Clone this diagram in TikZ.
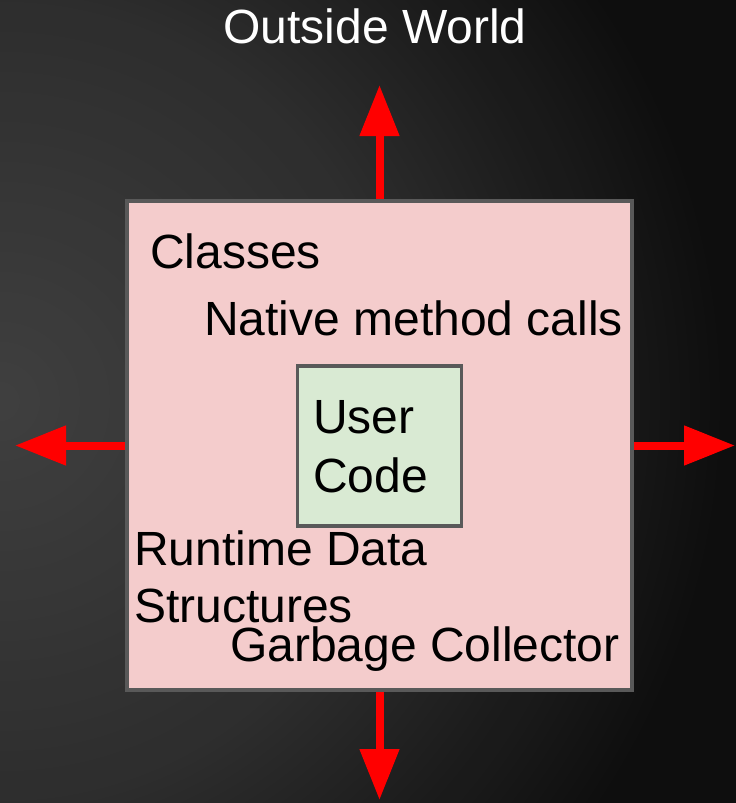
\documentclass[tikz,border=0pt]{standalone}
\usepackage{fontspec}
\setmainfont{Liberation Sans}
\usetikzlibrary{arrows.meta}
\definecolor{boxred}{HTML}{F4CCCC}
\definecolor{boxgreen}{HTML}{D9EAD3}
\definecolor{boxline}{HTML}{595959}
\definecolor{bgdark}{HTML}{0E0E0E}
\definecolor{arrowred}{HTML}{FF0000}
\tikzset{
  bigfont/.style={font=\fontsize{48}{57}\selectfont},
  label/.style={bigfont, anchor=base west, inner sep=0pt, text=black},
  panel/.style={draw=boxline, line width=3.5pt, inner sep=0pt},
  outarrow/.style={draw=arrowred, line width=8pt, -{Triangle[length=51pt,width=38pt]}}
}
\begin{document}
\begin{tikzpicture}[x=1pt,y=-1pt]
\begin{scope}
\clip (0,0) rectangle (736,803);
\fill[bgdark] (0,0) rectangle (736,803);
\foreach \i in {84,83,...,1}{
  \pgfmathsetmacro\rr{\i*10}
  \pgfmathtruncatemacro\g{\rr<=400 ? 64-18*\rr/400 : (\rr<=736 ? 46-32*(\rr-400)/336 : 14)}
  \definecolor{bgc}{RGB}{\g,\g,\g}
  \fill[bgc] (0,401.5) circle[radius=\rr];
}
\end{scope}
\useasboundingbox (0,0) rectangle (736,803);
\node[bigfont, text=white, anchor=base, inner sep=0pt] (world) at (375,43) {Outside World};
\node[panel, fill=boxred, minimum width=505pt, minimum height=489pt] (jvm) at (379.5,445.5) {};
\node[panel, fill=boxgreen, minimum width=164pt, minimum height=160pt] (user) at (379.5,446) {};
\node[label] (classes) at (150,268) {Classes};
\node[label] (native) at (204,335) {Native method calls};
\node[label] (usert) at (313,433) {User};
\node[label] (code) at (313,492) {Code};
\node[label] (runtime) at (134,565) {Runtime Data};
\node[label] (struct) at (134,622) {Structures};
\node[label] (gc) at (230,661) {Garbage Collector};
\coordinate (tipN) at (379.5,85);
\coordinate (tipS) at (379.5,800);
\coordinate (tipW) at (15,445.5);
\coordinate (tipE) at (735,445.5);
\draw[outarrow] (jvm.north) -- (tipN);
\draw[outarrow] (jvm.south) -- (tipS);
\draw[outarrow] (jvm.west) -- (tipW);
\draw[outarrow] (jvm.east) -- (tipE);
\end{tikzpicture}
\end{document}
